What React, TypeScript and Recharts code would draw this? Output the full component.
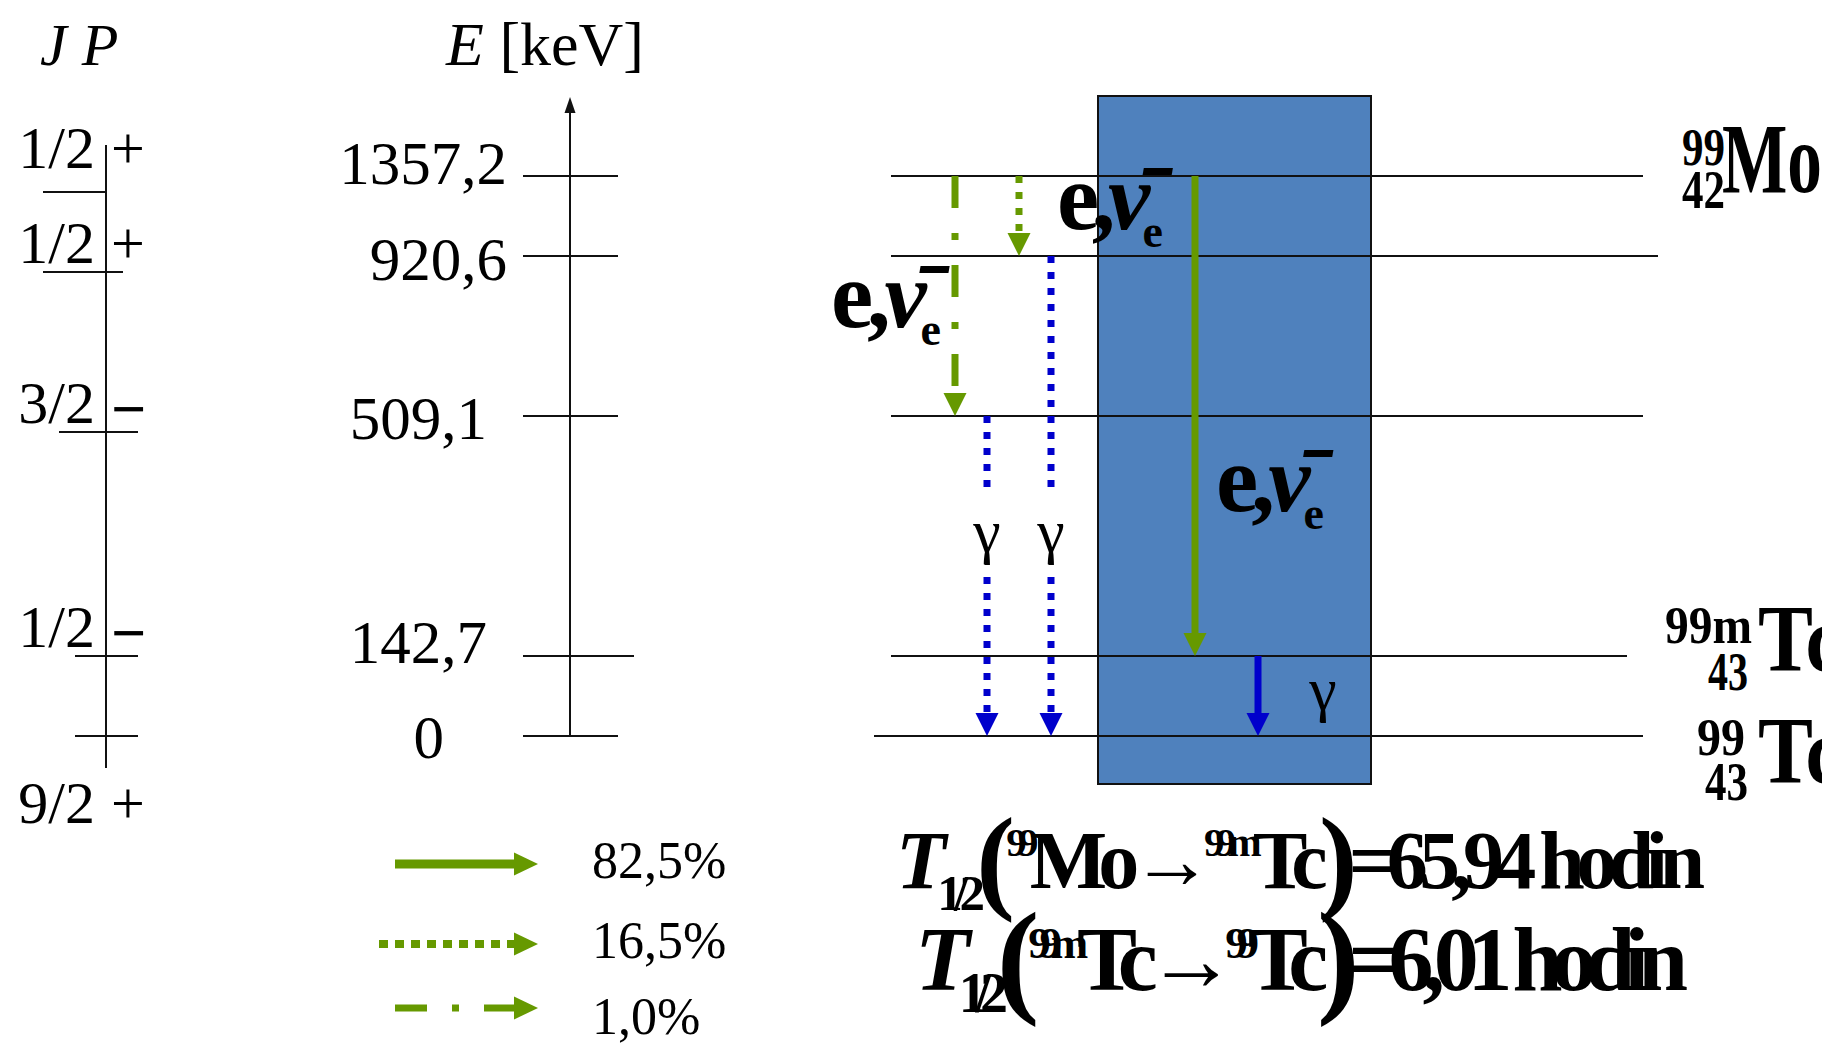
import React from 'react';
import { ComposedChart, XAxis, YAxis, ReferenceLine, ReferenceArea, ReferenceDot } from 'recharts';

// ---------------- data ----------------
// Energy levels of the 99Mo -> 99mTc -> 99Tc decay scheme (keV labels)
const levelEnergies = ['1357,2', '920,6', '509,1', '142,7', '0'];
// schematic height of each level in the diagram (diagram units, not to scale)
const levelHeights = [7, 6, 4, 1, 0];
// spin / parity of each level
const spins = ['1/2', '1/2', '3/2', '1/2', '9/2'];
const parities = ['+', '+', '\u2212', '\u2212', '+'];
const spinTickHeights = [6.8, 5.8, 3.8, 1, 0];

// beta branches from the 99Mo level (index 0) to target levels
const betaSource = 0;
const betaTargets = [3, 1, 2];
const betaIntensities = ['82,5%', '16,5%', '1,0%'];

// gamma transitions
const gammaSources = [2, 1, 3];
const gammaTargets = [4, 4, 4];

// nuclide labels
const nuclideMass = ['99', '99m', '99'];
const nuclideZ = ['42', '43', '43'];
const nuclideSymbol = ['Mo', 'Tc', 'Tc'];

// half-lives
const halfLifeFromMass = ['99', '99m'];
const halfLifeFromSymbol = ['Mo', 'Tc'];
const halfLifeToMass = ['99m', '99'];
const halfLifeToSymbol = ['Tc', 'Tc'];
const halfLifeValues = ['65,94', '6,01'];
const halfLifeUnit = 'hodin';

// ---------------- layout / style ----------------
const W = 1822;
const H = 1045;
const BASE_PX = 736; // pixel row of height 0
const UNIT_PX = 80; // pixels per diagram unit
const toY = (px: number) => (BASE_PX - px) / UNIT_PX;
const SERIF = '"Liberation Serif", "Times New Roman", serif';
const GREEN = '#669900';
const BLUE = '#0000CC';
const BOX_FILL = '#4F81BD';

const LAYOUT = {
  levelX1: [891, 891, 891, 891, 874],
  levelX2: [1643, 1658, 1643, 1627, 1643],
  eAxisX: 570,
  eAxisTopPx: 97,
  eTickX1: 523,
  eTickX2: [618, 618, 618, 634, 618],
  energyLabelRight: [507, 507, 487, 487, 444],
  energyLabelBase: [184, 280, 439, 663, 758],
  jpAxisX: 106,
  jpAxisTopPx: 145,
  jpAxisBottomPx: 768,
  jpTickX1: [43, 43, 59, 75, 75],
  jpTickX2: [106, 123, 138, 138, 138],
  jpBase: [168, 263, 423, 647, 823],
  jpFracRight: 95,
  jpSignLeft: 111,
  betaX: [1195, 1019, 955],
  betaDash: [undefined, '7 9', '32 25 7 25'] as (string | undefined)[],
  gammaX: [987, 1051, 1258],
  gammaDash: ['7 9', '7 9', undefined] as (string | undefined)[],
  gammaGap: [[488, 577], [488, 577], null] as (number[] | null)[],
  gammaLabel: [[987, 552], [1051, 552], [1323, 710]],
  box: { x1: 1098, x2: 1371, top: 96, bottom: 784 },
  arrowW: 7,
  headW: 23,
  headH: 23,
  legendY: [864, 944, 1008],
  legendX1: [395, 379, 395],
  legendTip: 538,
  legendW: [9, 8, 7],
  legendDash: [undefined, '9 7', '32 25 7 25'] as (string | undefined)[],
  legendLabelX: 592,
  legendLabelBase: [878, 958, 1034],
  betaLabel: [[1057, 229, 106], [831, 327, 110], [1216, 511, 108]],
};

function textMark(key: string, xPx: number, yPx: number, node: React.ReactNode) {
  return (
    <ReferenceDot
      key={key}
      x={xPx}
      y={toY(yPx)}
      r={0}
      ifOverflow="visible"
      shape={(p: any) => <g transform={`translate(${p.cx},${p.cy})`}>{node}</g>}
    />
  );
}

function headMark(key: string, x: number, y: number, dir: 'down' | 'up' | 'right', w: number, h: number, color: string) {
  return (
    <ReferenceDot
      key={key}
      x={x}
      y={y}
      r={0}
      ifOverflow="visible"
      shape={(p: any) => {
        const cx = p.cx;
        const cy = p.cy;
        let pts = '';
        if (dir === 'down') pts = `${cx},${cy} ${cx - w / 2},${cy - h} ${cx + w / 2},${cy - h}`;
        else if (dir === 'up') pts = `${cx},${cy} ${cx - w / 2},${cy + h} ${cx + w / 2},${cy + h}`;
        else pts = `${cx},${cy} ${cx - h},${cy - w / 2} ${cx - h},${cy + w / 2}`;
        return <polygon points={pts} fill={color} />;
      }}
    />
  );
}

function betaLabel(key: string, x: number, y: number, len: number) {
  return textMark(
    key,
    x,
    y,
    <text x={0} y={0} fontFamily={SERIF} fontWeight="bold" fontSize={95} fill="#000" textLength={len} lengthAdjust="spacing">
      <tspan>e</tspan>
      <tspan>,</tspan>
      <tspan fontStyle="italic">{'\u03BD\u0304'}</tspan>
      <tspan fontSize={46} dy={18}>e</tspan>
    </text>
  );
}

export default function App() {
  const hd = LAYOUT.headH / UNIT_PX;
  const elements: React.ReactNode[] = [];

  // blue box
  elements.push(
    <ReferenceArea
      key="box"
      x1={LAYOUT.box.x1}
      x2={LAYOUT.box.x2}
      y1={toY(LAYOUT.box.bottom)}
      y2={toY(LAYOUT.box.top)}
      fill={BOX_FILL}
      fillOpacity={1}
      stroke="#111"
      strokeWidth={2}
      ifOverflow="visible"
    />
  );

  // level lines
  levelHeights.forEach((h, i) => {
    elements.push(
      <ReferenceLine key={`lvl${i}`} segment={[{ x: LAYOUT.levelX1[i], y: h }, { x: LAYOUT.levelX2[i], y: h }]} stroke="#111" strokeWidth={2} ifOverflow="visible" />
    );
    elements.push(
      <ReferenceLine key={`etick${i}`} segment={[{ x: LAYOUT.eTickX1, y: h }, { x: LAYOUT.eTickX2[i], y: h }]} stroke="#111" strokeWidth={2} ifOverflow="visible" />
    );
    elements.push(
      textMark(
        `elab${i}`,
        LAYOUT.energyLabelRight[i],
        LAYOUT.energyLabelBase[i],
        <text x={0} y={0} textAnchor="end" fontFamily={SERIF} fontSize={61} fill="#000">{levelEnergies[i]}</text>
      )
    );
  });

  // energy axis
  elements.push(
    <ReferenceLine key="eaxis" segment={[{ x: LAYOUT.eAxisX, y: 0 }, { x: LAYOUT.eAxisX, y: toY(LAYOUT.eAxisTopPx + 12) }]} stroke="#111" strokeWidth={2} ifOverflow="visible" />
  );
  elements.push(headMark('eaxhead', LAYOUT.eAxisX, toY(LAYOUT.eAxisTopPx), 'up', 11, 16, '#111'));

  // spin-parity axis
  elements.push(
    <ReferenceLine key="jpaxis" segment={[{ x: LAYOUT.jpAxisX, y: toY(LAYOUT.jpAxisTopPx) }, { x: LAYOUT.jpAxisX, y: toY(LAYOUT.jpAxisBottomPx) }]} stroke="#111" strokeWidth={2} ifOverflow="visible" />
  );
  spinTickHeights.forEach((h, i) => {
    elements.push(
      <ReferenceLine key={`jptick${i}`} segment={[{ x: LAYOUT.jpTickX1[i], y: h }, { x: LAYOUT.jpTickX2[i], y: h }]} stroke="#111" strokeWidth={2} ifOverflow="visible" />
    );
    elements.push(
      textMark(
        `jpf${i}`,
        LAYOUT.jpFracRight,
        LAYOUT.jpBase[i],
        <text x={0} y={0} textAnchor="end" fontFamily={SERIF} fontSize={60} fill="#000">{spins[i]}</text>
      )
    );
    const isPlus = parities[i] === '+';
    elements.push(
      textMark(
        `jps${i}`,
        LAYOUT.jpSignLeft,
        LAYOUT.jpBase[i] + (isPlus ? 0 : 7),
        <text x={0} y={0} fontFamily={SERIF} fontSize={isPlus ? 60 : 62} fontWeight={isPlus ? 'normal' : 'bold'} fill="#000">{parities[i]}</text>
      )
    );
  });

  // headers
  elements.push(
    textMark('hdrjp', 40, 65, <text x={0} y={0} fontFamily={SERIF} fontSize={60} fontStyle="italic" fill="#000">J P</text>)
  );
  elements.push(
    textMark(
      'hdre',
      446,
      65,
      <text x={0} y={0} fontFamily={SERIF} fontSize={62} fill="#000">
        <tspan fontStyle="italic">E</tspan>
        <tspan> [keV]</tspan>
      </text>
    )
  );

  // beta arrows
  betaTargets.forEach((t, i) => {
    const x = LAYOUT.betaX[i];
    const y1 = levelHeights[betaSource];
    const y2 = levelHeights[t];
    elements.push(
      <ReferenceLine
        key={`beta${i}`}
        segment={[{ x, y: y1 }, { x, y: y2 + hd - 0.01 }]}
        stroke={GREEN}
        strokeWidth={LAYOUT.arrowW}
        strokeDasharray={LAYOUT.betaDash[i]}
        ifOverflow="visible"
      />
    );
    elements.push(headMark(`betah${i}`, x, y2, 'down', LAYOUT.headW, LAYOUT.headH, GREEN));
  });

  // gamma arrows
  gammaSources.forEach((s, i) => {
    const x = LAYOUT.gammaX[i];
    const y1 = levelHeights[s];
    const y2 = levelHeights[gammaTargets[i]];
    const gap = LAYOUT.gammaGap[i];
    if (gap) {
      elements.push(
        <ReferenceLine key={`gam${i}a`} segment={[{ x, y: y1 }, { x, y: toY(gap[0]) }]} stroke={BLUE} strokeWidth={LAYOUT.arrowW} strokeDasharray={LAYOUT.gammaDash[i]} ifOverflow="visible" />
      );
      elements.push(
        <ReferenceLine key={`gam${i}b`} segment={[{ x, y: toY(gap[1]) }, { x, y: y2 + hd - 0.01 }]} stroke={BLUE} strokeWidth={LAYOUT.arrowW} strokeDasharray={LAYOUT.gammaDash[i]} ifOverflow="visible" />
      );
    } else {
      elements.push(
        <ReferenceLine key={`gam${i}`} segment={[{ x, y: y1 }, { x, y: y2 + hd - 0.01 }]} stroke={BLUE} strokeWidth={LAYOUT.arrowW} strokeDasharray={LAYOUT.gammaDash[i]} ifOverflow="visible" />
      );
    }
    elements.push(headMark(`gamh${i}`, x, y2, 'down', LAYOUT.headW, LAYOUT.headH, BLUE));
    const [lx, ly] = LAYOUT.gammaLabel[i];
    elements.push(
      textMark(`gl${i}`, lx, ly, <text x={0} y={0} textAnchor="middle" fontFamily={SERIF} fontSize={62} fill="#000">{'\u03B3'}</text>)
    );
  });

  // beta labels
  LAYOUT.betaLabel.forEach(([x, y, len], i) => {
    elements.push(betaLabel(`bl${i}`, x, y, len));
  });

  // legend
  betaIntensities.forEach((txt, i) => {
    const y = toY(LAYOUT.legendY[i]);
    elements.push(
      <ReferenceLine
        key={`leg${i}`}
        segment={[{ x: LAYOUT.legendX1[i], y }, { x: LAYOUT.legendTip - LAYOUT.headH + 1, y }]}
        stroke={GREEN}
        strokeWidth={LAYOUT.legendW[i]}
        strokeDasharray={LAYOUT.legendDash[i]}
        ifOverflow="visible"
      />
    );
    elements.push(headMark(`legh${i}`, LAYOUT.legendTip, y, 'right', 23, 24, GREEN));
    elements.push(
      textMark(`legt${i}`, LAYOUT.legendLabelX, LAYOUT.legendLabelBase[i], <text x={0} y={0} fontFamily={SERIF} fontSize={52} fill="#000">{txt}</text>)
    );
  });

  // nuclide labels
  const nucPos = [
    { massX: 1682, massBase: 165, massLen: 43, zX: 1682, zBase: 208, zLen: 43, symX: 1722, symBase: 192, symSize: 100, symLen: 100 },
    { massX: 1665, massBase: 643, massLen: 87, zX: 1708, zBase: 690, zLen: 40, symX: 1758, symBase: 671, symSize: 95, symLen: 84 },
    { massX: 1697, massBase: 755, massLen: 48, zX: 1705, zBase: 800, zLen: 43, symX: 1758, symBase: 783, symSize: 95, symLen: 84 },
  ];
  nucPos.forEach((p, i) => {
    elements.push(
      textMark(`nm${i}`, p.massX, p.massBase, <text x={0} y={0} fontFamily={SERIF} fontWeight="bold" fontSize={52} fill="#000" textLength={p.massLen} lengthAdjust="spacingAndGlyphs">{nuclideMass[i]}</text>)
    );
    elements.push(
      textMark(`nz${i}`, p.zX, p.zBase, <text x={0} y={0} fontFamily={SERIF} fontWeight="bold" fontSize={54} fill="#000" textLength={p.zLen} lengthAdjust="spacingAndGlyphs">{nuclideZ[i]}</text>)
    );
    elements.push(
      textMark(`ns${i}`, p.symX, p.symBase, <text x={0} y={0} fontFamily={SERIF} fontWeight="bold" fontSize={p.symSize} fill="#000" textLength={p.symLen} lengthAdjust="spacingAndGlyphs">{nuclideSymbol[i]}</text>)
    );
  });

  // half-life formulas
  const hlPos = [
    { x: 896, base: 888, size: 82, len: 809 },
    { x: 915, base: 990, size: 90, len: 773 },
  ];
  hlPos.forEach((p, i) => {
    const sup = Math.round(p.size * 0.5);
    const sub = Math.round(p.size * 0.62);
    const par = Math.round(p.size * 1.42);
    elements.push(
      textMark(
        `hl${i}`,
        p.x,
        p.base,
        <text x={0} y={0} fontFamily={SERIF} fontWeight="bold" fontSize={p.size} fill="#000" textLength={p.len} lengthAdjust="spacing">
          <tspan fontStyle="italic">T</tspan>
          <tspan fontSize={sub} dy={22}>1/2</tspan>
          <tspan fontSize={par} dy={-12}>(</tspan>
          <tspan fontSize={sup} dy={-42}>{halfLifeFromMass[i]}</tspan>
          <tspan dy={32}>{halfLifeFromSymbol[i]}</tspan>
          <tspan>{'\u2192'}</tspan>
          <tspan fontSize={sup} dy={-32}>{halfLifeToMass[i]}</tspan>
          <tspan dy={32}>{halfLifeToSymbol[i]}</tspan>
          <tspan fontSize={par} dy={10}>)</tspan>
          <tspan dy={-10}>{`=${halfLifeValues[i]} ${halfLifeUnit}`}</tspan>
        </text>
      )
    );
  });

  return (
    <div style={{ position: 'absolute', left: 0, top: 0, width: W, height: H, background: '#fff' }}>
      <ComposedChart width={W} height={H} data={[]} margin={{ top: 16, right: 0, bottom: 29, left: 0 }}>
        <XAxis type="number" dataKey="x" domain={[0, W]} allowDataOverflow hide />
        <YAxis type="number" dataKey="y" domain={[-3.5, 9]} allowDataOverflow hide />
        {elements}
      </ComposedChart>
    </div>
  );
}
